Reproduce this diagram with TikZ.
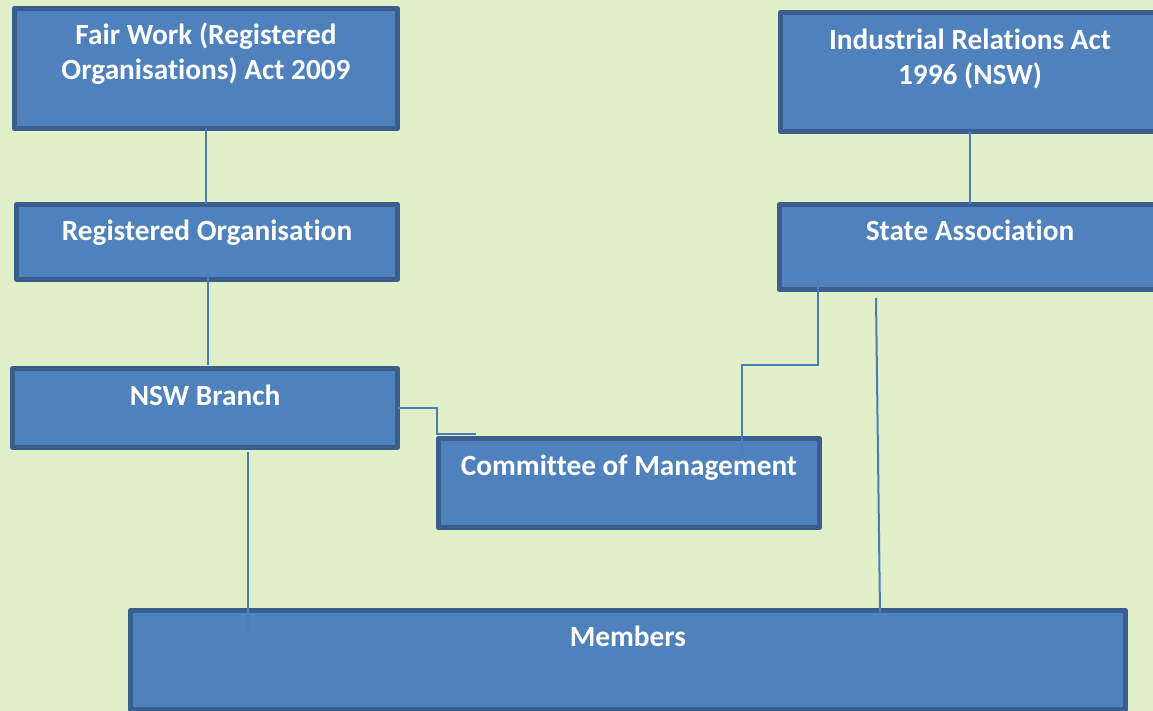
\documentclass[tikz,border=0pt]{standalone}
\usepackage{fontspec}
\setmainfont[Ligatures=NoCommon]{Carlito}
\usetikzlibrary{calc}
\definecolor{bg}{HTML}{E2F0CA}
\definecolor{boxfill}{HTML}{4F81BD}
\definecolor{boxline}{HTML}{3A5F8E}
\definecolor{connblue}{HTML}{4A7EBB}
\begin{document}
\begin{tikzpicture}[x=1pt,y=-1pt,
  box/.style={draw=boxline, fill=boxfill, line width=5pt, inner sep=0pt, outer sep=0pt, line join=round},
  lbl/.style={text=white, font=\fontsize{29.3}{35}\selectfont\bfseries, align=center, anchor=base, inner sep=0pt},
  link/.style={draw=connblue, line width=2pt}]
\useasboundingbox (0,0) rectangle (1153,711);
\fill[bg] (0,0) rectangle (1153,711);
% boxes
\node[box, minimum width=383pt, minimum height=120pt] (fw) at (206,68.5) {};
\node[box, minimum width=381pt, minimum height=75pt] (ro) at (207,242) {};
\node[box, minimum width=385pt, minimum height=79pt] (nsw) at (205,408) {};
\node[box, minimum width=381pt, minimum height=89pt] (com) at (629,483) {};
\node[box, minimum width=379pt, minimum height=119pt] (ir) at (970,72) {};
\node[box, minimum width=381pt, minimum height=85pt] (sa) at (970,247) {};
\node[box, minimum width=995pt, minimum height=99pt] (mem) at (628,660) {};
% labels
\node[lbl] (fwt) at (206,80) {Fair Work (Registered\\Organisations) Act 2009};
\node[lbl] (rot) at (207,241) {Registered Organisation};
\node[lbl] (nswt) at (205,405) {NSW Branch};
\node[lbl] (comt) at (629,475) {Committee of Management};
\node[lbl] (irt) at (970,85) {Industrial Relations Act\\1996 (NSW)};
\node[lbl] (sat) at (970,241) {State Association};
\node[lbl] (memt) at (628,646) {Members};
% connectors
\draw[link] (fw.south) -- (fw.south |- ro.north);
\draw[link] ($(ro.south)+(1,-6)$) -- ($(ro.south |- nsw.north)+(1,-4)$);
\draw[link] (ir.south) -- (ir.south |- sa.north);
\coordinate (comin) at ($(com.north west)+(37.5,-4.5)$);
\draw[link] (nsw.east) -| ($(nsw.east)+(39.5,26)$) -- (comin);
\coordinate (sadrop) at ($(sa.south west)+(38.5,-12)$);
\draw[link] (sadrop) |- ($(sa.south west)+(-37.5,75.5)$) -- ($(com.north)+(113,14)$);
\draw[link] ($(nsw.south)+(43,4)$) -- ($(mem.north)+(-380,22)$);
\coordinate (safree) at ($(sa.south)+(-94,8.5)$);
\draw[link] (safree) -- ($(mem.north)+(252,2)$);
\end{tikzpicture}
\end{document}
